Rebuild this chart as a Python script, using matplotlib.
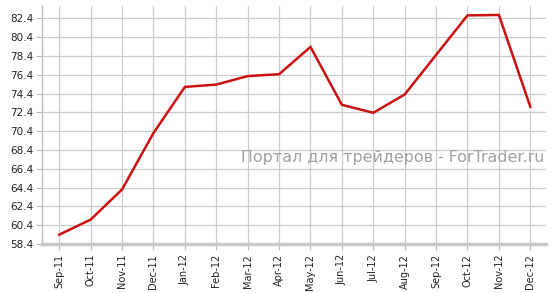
import matplotlib
matplotlib.use("Agg")
import matplotlib.pyplot as plt

months = ["Sep-11", "Oct-11", "Nov-11", "Dec-11", "Jan-12", "Feb-12", "Mar-12", "Apr-12",
          "May-12", "Jun-12", "Jul-12", "Aug-12", "Sep-12", "Oct-12", "Nov-12", "Dec-12"]
values = [59.4, 61.0, 64.2, 70.2, 75.1, 75.35, 76.25, 76.45,
          79.35, 73.2, 72.35, 74.3, 78.5, 82.7, 82.75, 73.0]
yticks = [58.4, 60.4, 62.4, 64.4, 66.4, 68.4, 70.4, 72.4, 74.4, 76.4, 78.4, 80.4, 82.4]

fig = plt.figure(figsize=(5.56, 2.93), dpi=100)
ax = fig.add_axes([0.0755, 0.167, 0.9065, 0.8125])
x = list(range(len(months)))
ax.plot(x, values, color="#cc1111", lw=1.8, solid_joinstyle="miter", zorder=3)

ax.set_xlim(-0.55, 15.5)
ax.set_ylim(58.4, 83.7)
ax.set_xticks(x)
ax.set_xticklabels(months, rotation=90, fontsize=7, color="#222222")
ax.set_yticks(yticks)
ax.set_yticklabels([f"{v:.1f}" for v in yticks], fontsize=7.5, color="#222222")
ax.grid(True, color="#cccccc", lw=0.9)
ax.set_axisbelow(True)
for s in ["top", "right"]:
    ax.spines[s].set_visible(False)
ax.spines["left"].set_color("#bbbbbb")
ax.spines["left"].set_linewidth(1.0)
ax.spines["bottom"].set_color("#c8c8c8")
ax.spines["bottom"].set_linewidth(2.5)
ax.tick_params(axis="y", length=4, color="#bbbbbb", pad=2)
ax.tick_params(axis="x", length=4, color="#bbbbbb", pad=3)

ax.text(0.997, 0.365, "Портал для трейдеров - ForTrader.ru", transform=ax.transAxes,
        ha="right", va="center", fontsize=11.4, color="#a0a0a0", zorder=2)

fig.savefig("out.png", dpi=100)
